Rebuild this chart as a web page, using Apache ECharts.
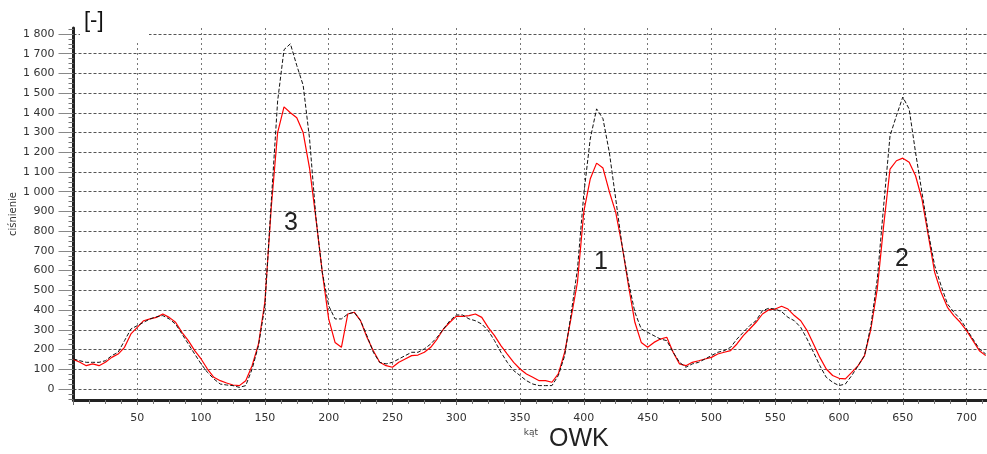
<!DOCTYPE html>
<html>
<head>
    <meta charset="utf-8">
    <title>ciśnienie - kąt OWK</title>
    <script src="https://cdn.jsdelivr.net/npm/echarts@6.0.0/dist/echarts.min.js"></script>
    <style>
        html, body { margin: 0; padding: 0; background: #fff; }
        #main { width: 987px; height: 454px; }
    </style>
</head>
<body>
    <div id="main"></div>
    <script type="text/javascript">
        // kąt OWK [deg], co 5 stopni
        var angles = [];
        for (var a = 0; a <= 715; a += 5) angles.push(a);

        // przebieg czarny (przerywany)
        var blackValues = [
            152, 143, 135, 135, 135, 143, 169, 186, 245, 304,
            321, 338, 355, 366, 372, 355, 329, 279, 228, 177,
            127, 84, 51, 25, 20, 17, 8, 17, 101, 220,
            420, 950, 1460, 1720, 1750, 1640, 1540, 1270, 870, 591,
            422, 355, 355, 380, 389, 346, 270, 186, 135, 127,
            135, 152, 169, 186, 186, 203, 228, 262, 304, 346,
            375, 375, 355, 346, 329, 296, 245, 186, 135, 93,
            68, 42, 25, 17, 17, 17, 68, 169, 380, 608,
            990, 1267, 1420, 1370, 1199, 963, 726, 541, 389, 304,
            287, 270, 253, 245, 186, 135, 110, 127, 135, 152,
            169, 186, 194, 211, 253, 287, 321, 346, 397, 409,
            405, 392, 363, 346, 312, 253, 186, 118, 59, 34,
            17, 25, 68, 118, 169, 321, 557, 929, 1284, 1385,
            1480, 1419, 1199, 997, 794, 625, 524, 431, 389, 355,
            304, 253, 203, 177
        ];

        // przebieg czerwony
        var redValues = [
            150, 135, 118, 127, 118, 135, 160, 177, 211, 279,
            312, 346, 355, 363, 380, 363, 338, 287, 245, 194,
            152, 101, 59, 42, 30, 20, 17, 42, 118, 228,
            440, 920, 1300, 1430, 1400, 1375, 1300, 1120, 865, 591,
            355, 236, 211, 380, 389, 346, 262, 194, 135, 118,
            110, 135, 152, 169, 172, 186, 211, 253, 304, 338,
            368, 368, 372, 380, 363, 312, 270, 220, 177, 135,
            101, 76, 59, 42, 42, 34, 76, 186, 360, 541,
            900, 1064, 1145, 1120, 1000, 895, 726, 524, 338, 236,
            211, 236, 253, 262, 186, 127, 118, 135, 143, 152,
            160, 177, 186, 194, 228, 270, 304, 338, 380, 402,
            405, 419, 405, 372, 346, 296, 228, 160, 101, 68,
            54, 51, 84, 118, 169, 304, 507, 828, 1115, 1157,
            1170, 1149, 1081, 963, 777, 591, 490, 414, 372, 338,
            296, 245, 194, 169
        ];

        var yTicks = [0, 100, 200, 300, 400, 500, 600, 700, 800, 900,
            1000, 1100, 1200, 1300, 1400, 1500, 1600, 1700, 1800];
        var yMinorTicks = [];
        for (var t = -50; t <= 1825; t += 25) {
            if (t % 100 !== 0) yMinorTicks.push(t);
        }

        var peakLabels = [
            { text: '3', x: 291, y: 223 },
            { text: '1', x: 601, y: 262 },
            { text: '2', x: 902, y: 259 }
        ];

        function pairs(values) {
            return values.map(function (v, i) { return [angles[i], v]; });
        }

        function fmtY(v) {
            if (v >= 1000) {
                return Math.floor(v / 1000) + ' ' + String(v % 1000).padStart(3, '0');
            }
            return String(v);
        }

        var chart = echarts.init(document.getElementById('main'));
        var fontFamily = 'DejaVu Sans';

        var graphics = [
            {
                type: 'rect', z: 5, silent: true,
                shape: { x: 80, y: 8, width: 69, height: 34 },
                style: { fill: '#fff' }
            },
            {
                type: 'text', z: 6, x: 84, y: 21,
                style: { text: '[-]', font: '22px "Liberation Sans"', fill: '#111', verticalAlign: 'middle' }
            },
            {
                type: 'text', z: 6, x: 531, y: 433,
                style: { text: 'kąt', font: '9px "DejaVu Sans"', fill: '#444', align: 'center', verticalAlign: 'middle' }
            },
            {
                type: 'text', z: 6, x: 549, y: 439,
                style: { text: 'OWK', font: '25px "Liberation Sans"', fill: '#222', verticalAlign: 'middle' }
            }
        ];
        peakLabels.forEach(function (p) {
            graphics.push({
                type: 'text', z: 6, x: p.x, y: p.y,
                style: { text: p.text, font: '25px "Liberation Sans"', fill: '#222', align: 'center', verticalAlign: 'middle' }
            });
        });

        var option = {
            animation: false,
            backgroundColor: '#fff',
            grid: { left: 73.5, right: 0, top: 28, bottom: 54, outerBoundsMode: 'none', containLabel: false },
            xAxis: {
                type: 'value',
                min: 0,
                max: 716,
                interval: 50,
                axisLine: { show: true, onZero: false, lineStyle: { color: '#222', width: 3 } },
                axisTick: { show: true, length: 5, lineStyle: { color: '#666' } },
                minorTick: { show: true, splitNumber: 4, length: 4, lineStyle: { color: '#777' } },
                axisLabel: {
                    margin: 13,
                    color: '#333',
                    fontFamily: fontFamily,
                    fontSize: 11,
                    showMaxLabel: false,
                    formatter: function (v) {
                        return (v > 0 && v % 50 === 0) ? String(v) : '';
                    }
                },
                splitLine: { show: true, lineStyle: { color: '#777', type: [2, 3], width: 1 } }
            },
            yAxis: [
                {
                    type: 'value',
                    min: -56,
                    max: 1830,
                    name: 'ciśnienie',
                    nameLocation: 'middle',
                    nameGap: 55,
                    nameMoveOverlap: false,
                    nameTextStyle: { color: '#333', fontFamily: fontFamily, fontSize: 10 },
                    axisLine: { show: true, lineStyle: { color: '#222', width: 3 } },
                    axisTick: { show: true, length: 15, customValues: yTicks, lineStyle: { color: '#888' } },
                    axisLabel: {
                        margin: 19,
                        customValues: yTicks,
                        color: '#333',
                        fontFamily: fontFamily,
                        fontSize: 11,
                        formatter: fmtY
                    },
                    splitLine: { show: true, lineStyle: { color: '#555', type: [3, 2], width: 1 } }
                },
                {
                    type: 'value',
                    position: 'left',
                    min: -56,
                    max: 1830,
                    axisLine: { show: false },
                    axisTick: { show: true, length: 5, customValues: yMinorTicks, lineStyle: { color: '#777' } },
                    axisLabel: { show: false },
                    splitLine: { show: false }
                }
            ],
            graphic: graphics,
            series: [
                {
                    name: 'czerwony',
                    type: 'line',
                    data: pairs(redValues),
                    showSymbol: false,
                    symbol: 'none',
                    lineStyle: { color: '#ff0000', width: 1.2 },
                    z: 3
                },
                {
                    name: 'czarny',
                    type: 'line',
                    data: pairs(blackValues),
                    showSymbol: false,
                    symbol: 'none',
                    lineStyle: { color: '#111', width: 1, type: [4, 2] },
                    z: 4
                }
            ]
        };

        chart.setOption(option);
    </script>
</body>
</html>
